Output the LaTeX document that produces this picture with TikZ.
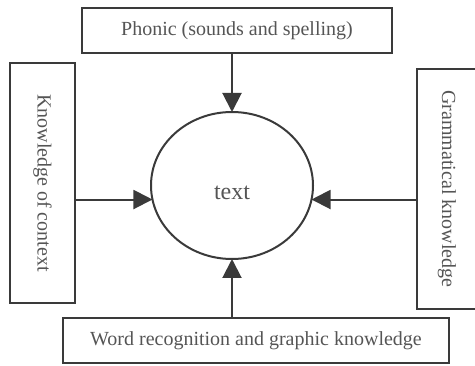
\documentclass[tikz,border=0pt]{standalone}
\usepackage{fontspec}
\setmainfont{Liberation Serif}
\usetikzlibrary{shapes.geometric,arrows.meta}
\definecolor{linec}{HTML}{3A3A3A}
\definecolor{textc}{HTML}{555555}
\begin{document}
\begin{tikzpicture}[x=1pt,y=-1pt,
  box/.style={draw=linec,line width=2.4pt,rectangle,inner sep=0pt,outer sep=0pt,
    text=textc,font=\fontsize{20}{24}\selectfont},
  conn/.style={draw=linec,line width=2pt,-{Triangle[length=19pt,width=19pt]}}]
\useasboundingbox (0,0) rectangle (475,366);
\node[box,minimum width=310pt,minimum height=45pt] (top) at (237,30.5) {Phonic (sounds and spelling)};
\node[box,minimum width=65pt,minimum height=240pt] (lbox) at (42.5,183) {\rotatebox{-90}{Knowledge of context}};
\node[box,minimum width=60pt,minimum height=240pt] (rbox) at (447,189) {\rotatebox{-90}{Grammatical knowledge}};
\node[box,minimum width=386pt,minimum height=45pt] (bot) at (256,340.5) {Word recognition and graphic knowledge};
\node[ellipse,draw=linec,line width=2pt,minimum width=162pt,minimum height=147pt,inner sep=0pt,outer sep=0pt] (c) at (232,185.5) {};
\node[text=textc,font=\fontsize{24}{28}\selectfont] (lbl) at (232,193) {text};
\draw[conn] (top.south -| c.north) -- (c.north);
\draw[conn] (bot.north -| c.south) -- (c.south);
\draw[conn] (lbox.east |- c.190) -- (c.190);
\draw[conn] (rbox.west |- c.-10) -- (c.-10);
\end{tikzpicture}
\end{document}
